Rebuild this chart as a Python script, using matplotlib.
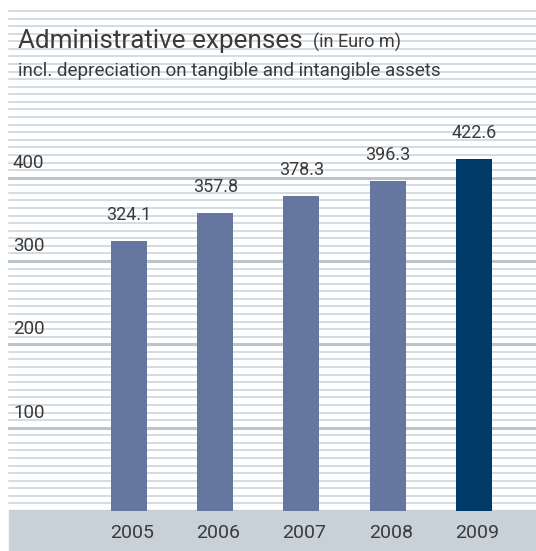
import matplotlib.pyplot as plt
from matplotlib.patches import Rectangle

years = ["2005", "2006", "2007", "2008", "2009"]
expenses = [324.1, 357.8, 378.3, 396.3, 422.6]
bar_colors = ["#65779e", "#65779e", "#65779e", "#65779e", "#003a68"]
ytick_values = [100, 200, 300, 400]

plt.rcParams['font.family'] = ['Roboto', 'DejaVu Sans']
text_color = "#3a3a3a"

W, H = 536, 551
fig = plt.figure(figsize=(W / 100, H / 100), dpi=100)

# grey band carrying the year labels
fig.patches.append(Rectangle((9 / W, 0), (W - 9) / W, 41 / H,
                             transform=fig.transFigure, color="#c9d1d8", zorder=-1))

# axes spans the ruled area: value 0 at y=511px, 600 at y=11px
ax = fig.add_axes([9 / W, 1 - 511 / H, (W - 9) / W, 500 / H])
ax.set_zorder(1)
ax.set_xlim(-1.391, 4.719)
ax.set_ylim(0, 600)
ax.axis('off')

# ruled background, 11 rules per 100, heavier rule every 100
step = 100 / 11
for k in range(1, 67):
    y = k * step
    heavy = k % 11 == 0 and k <= 44
    ax.axhline(y, color="#b9c4cc" if heavy else "#c9d2d9",
               lw=2.2 if heavy else 1.1, zorder=0, clip_on=False)

x = list(range(len(years)))
ax.bar(x, expenses, width=0.417, color=bar_colors, zorder=2)

for xi, v in zip(x, expenses):
    ax.annotate(f"{v:.1f}", (xi, v), xytext=(0, 26), textcoords='offset pixels',
                ha='center', va='center', fontsize=13, color=text_color)

for v in ytick_values:
    ax.annotate(str(v), (-1.391, v), xytext=(4, 15), textcoords='offset pixels',
                ha='left', va='center', fontsize=13.5, color=text_color)

for xi, yr in zip(x, years):
    ax.annotate(yr, (xi, 0), xytext=(3, -22), textcoords='offset pixels',
                ha='center', va='center', fontsize=14, color=text_color,
                annotation_clip=False)

fig.text(18 / W, 1 - 48 / H, "Administrative expenses", fontsize=18.8,
         color=text_color, va='baseline')
fig.text(313 / W, 1 - 48 / H, "(in Euro m)", fontsize=13,
         color=text_color, va='baseline')
fig.text(18 / W, 1 - 76 / H, "incl. depreciation on tangible and intangible assets",
         fontsize=13.6, color=text_color, va='baseline')

fig.savefig("out.png", dpi=100)
